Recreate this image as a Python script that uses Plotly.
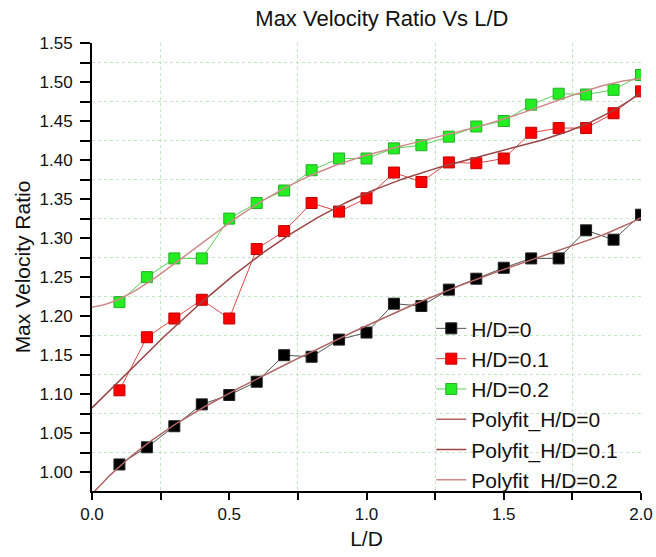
import numpy as np
import plotly.graph_objects as go

# L/D positions
ld = [0.1, 0.2, 0.3, 0.4, 0.5, 0.6, 0.7, 0.8, 0.9, 1.0,
      1.1, 1.2, 1.3, 1.4, 1.5, 1.6, 1.7, 1.8, 1.9, 2.0]

# Max velocity ratio for each H/D
hd_0 = [1.010, 1.032, 1.059, 1.087, 1.099, 1.116, 1.150, 1.148, 1.170, 1.179,
        1.216, 1.213, 1.234, 1.248, 1.262, 1.274, 1.274, 1.310, 1.298, 1.330]
hd_01 = [1.105, 1.173, 1.197, 1.221, 1.197, 1.286, 1.309, 1.345, 1.334, 1.351,
         1.384, 1.372, 1.397, 1.396, 1.402, 1.435, 1.441, 1.441, 1.460, 1.488]
hd_02 = [1.218, 1.250, 1.274, 1.274, 1.325, 1.345, 1.361, 1.387, 1.402, 1.402,
         1.415, 1.419, 1.430, 1.443, 1.450, 1.471, 1.485, 1.484, 1.490, 1.509]

series_names = ["H/D=0", "H/D=0.1", "H/D=0.2"]
fit_names = ["Polyfit_H/D=0", "Polyfit_H/D=0.1", "Polyfit_H/D=0.2"]
fit_degree = 5

FONT = "Liberation Sans, Arial, sans-serif"

marker_fill = ["#000000", "#ff0000", "#22ee22"]
marker_edge = ["#222222", "#c00000", "#22b022"]
line_cols = ["#555555", "#e04848", "#5ad05a"]
fit_cols = ["#b06464", "#9a4444", "#cf8a8a"]

fig = go.Figure()

for name, ys, fc, ec, lc in zip(series_names, [hd_0, hd_01, hd_02],
                                marker_fill, marker_edge, line_cols):
    fig.add_trace(go.Scatter(
        x=ld, y=ys, name=name, mode="lines+markers",
        line=dict(color=lc, width=1),
        marker=dict(symbol="square", size=11, color=fc,
                    line=dict(color=ec, width=1)),
    ))

# polynomial fits over the full L/D span
x_fit = np.linspace(0.0, 2.0, 201)
for name, ys, col in zip(fit_names, [hd_0, hd_01, hd_02], fit_cols):
    coeffs = np.polyfit(ld, ys, fit_degree)
    fig.add_trace(go.Scatter(
        x=x_fit, y=np.polyval(coeffs, x_fit), name=name, mode="lines",
        line=dict(color=col, width=1.5),
    ))

grid_col = "#c2e8c2"

fig.update_layout(
    width=656, height=557,
    margin=dict(l=92, r=15, t=43, b=66, autoexpand=False),
    paper_bgcolor="white", plot_bgcolor="white",
    font=dict(family=FONT, color="#111111"),
    title=dict(text="Max Velocity Ratio Vs L/D", font=dict(size=22, family=FONT),
               x=0.528, xref="paper", xanchor="center",
               y=0.968, yref="container", yanchor="middle"),
    showlegend=True,
    legend=dict(x=0.618, y=0.408, xanchor="left", yanchor="top",
                bgcolor="rgba(0,0,0,0)", font=dict(size=21, family=FONT),
                tracegroupgap=0, itemwidth=30),
    xaxis=dict(
        range=[0, 2], tick0=0, dtick=0.5, tickformat=".1f", automargin=False,
        showline=True, linecolor="black", linewidth=2,
        ticks="outside", ticklen=7, tickwidth=1.5, tickcolor="black",
        tickfont=dict(size=17), showgrid=False, zeroline=False,
        minor=dict(dtick=0.25, ticks="outside", ticklen=7, tickwidth=1.5,
                   tickcolor="black", showgrid=True, gridcolor=grid_col,
                   griddash="dot", gridwidth=1),
        title=dict(text="L/D", font=dict(size=21), standoff=8),
    ),
    xaxis2=dict(
        range=[0, 2], overlaying="x", side="top", anchor="y", automargin=False,
        showline=True, linecolor="black", linewidth=2,
        ticks="inside", ticklen=8, tickwidth=1.5, tickcolor="black",
        tick0=0, dtick=0.25, showticklabels=False, showgrid=False,
        zeroline=False,
    ),
    yaxis=dict(
        range=[0.976, 1.55], tick0=1.0, dtick=0.05, tickformat=".2f",
        automargin=False, ticklabelstandoff=4,
        showline=True, linecolor="black", linewidth=2,
        ticks="outside", ticklen=10, tickwidth=1.5, tickcolor="black",
        tickfont=dict(size=17), showgrid=False, zeroline=False,
        minor=dict(dtick=0.025, ticks="outside", ticklen=10, tickwidth=1.5,
                   tickcolor="black", showgrid=True, gridcolor=grid_col,
                   griddash="dot", gridwidth=1),
        title=dict(text="Max Velocity Ratio", font=dict(size=21), standoff=3),
    ),
    yaxis2=dict(
        range=[0.976, 1.55], overlaying="y", side="right", anchor="x",
        automargin=False,
        showline=True, linecolor="black", linewidth=2,
        ticks="inside", ticklen=8, tickwidth=1.5, tickcolor="black",
        tick0=1.0, dtick=0.025, showticklabels=False, showgrid=False,
        zeroline=False,
    ),
)

fig.write_html("out.html")
